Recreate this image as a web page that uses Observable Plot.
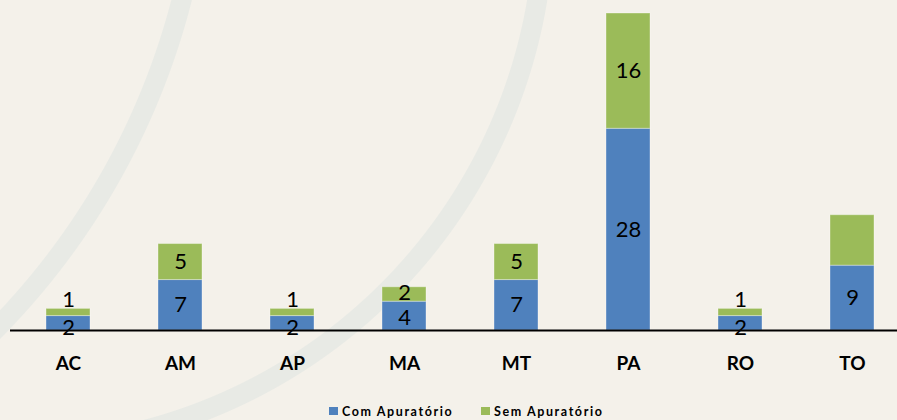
<!DOCTYPE html>
<html>
<head>
<meta charset="utf-8">
<script src="https://cdn.jsdelivr.net/npm/d3@7"></script>
<script src="https://cdn.jsdelivr.net/npm/@observablehq/plot@0.6"></script>
<style>
html, body { margin: 0; padding: 0; }
body {
  width: 897px; height: 420px; overflow: hidden;
  background-color: #f4f1ea;
  background-image:
    radial-gradient(circle at -523px -181px, transparent 717px, #e8eae5 718px, #e8eae5 737px, transparent 738px),
    radial-gradient(circle at 9px -88px, transparent 525px, #e8eae5 526px, #e8eae5 545px, transparent 546px);
  font-family: Lato, "Open Sans", sans-serif;
}
#chart svg { display: block; }
#legend { position: relative; width: 897px; height: 30px; }
.item { position: absolute; top: 14px; height: 14px; display: flex; align-items: center;
  font-size: 12.5px; font-weight: bold; letter-spacing: 1.6px; color: #000; }
.swatch { width: 9px; height: 8px; margin-right: 4px; }
</style>
</head>
<body>
<div id="chart"></div>
<div id="legend"></div>
<script>
const categories = ["AC", "AM", "AP", "MA", "MT", "PA", "RO", "TO"];
const comApuratorio = [2, 7, 2, 4, 7, 28, 2, 9];
const semApuratorio = [1, 5, 1, 2, 5, 16, 1, 7];
const comLabels = [2, 7, 2, 4, 7, 28, 2, 9];
const semLabels = [1, 5, 1, 2, 5, 16, 1, null];
const seriesNames = ["Com Apuratório", "Sem Apuratório"];
const seriesColors = ["#4f81bd", "#9bbb59"];

const data = [];
categories.forEach((c, i) => {
  const total = comApuratorio[i] + semApuratorio[i];
  data.push({state: c, series: seriesNames[0], value: comApuratorio[i], label: comLabels[i], total});
  data.push({state: c, series: seriesNames[1], value: semApuratorio[i], label: semLabels[i], total});
});
const isSmall = d => d.total <= 3;
const isTight = d => d.total > 3 && d.total <= 6;
const isNormal = d => d.total > 6;
const isCom = d => d.series === seriesNames[0];
const pick = test => d => test(d) ? d.label : null;

const textOpts = {x: "state", y: "value", fontSize: 22, fill: "#000"};
const plot = Plot.plot({
  width: 897, height: 390,
  marginTop: 13, marginBottom: 60, marginLeft: 10, marginRight: 0,
  style: {fontFamily: "Lato, 'Open Sans', sans-serif", background: "transparent", color: "#000", overflow: "visible"},
  x: {domain: categories, range: [-23, 943], padding: 0.608, label: null},
  y: {domain: [0, 44], axis: null},
  color: {domain: seriesNames, range: seriesColors},
  marks: [
    Plot.barY(data, {x: "state", y: "value", fill: "series", stroke: "#ffffff", strokeOpacity: 0.35, strokeWidth: 1}),
    Plot.ruleY([0], {stroke: "#000", strokeWidth: 2}),
    Plot.text(data, Plot.stackY({...textOpts, text: pick(isNormal)})),
    Plot.text(data, Plot.stackY({...textOpts, text: pick(d => isTight(d) && !isCom(d)), dy: -2})),
    Plot.text(data, Plot.stackY({...textOpts, text: pick(d => isTight(d) && isCom(d)), dy: 2})),
    Plot.text(data, Plot.stackY({...textOpts, text: pick(d => isSmall(d) && !isCom(d)), dy: -13})),
    Plot.text(data, Plot.stackY({...textOpts, text: pick(d => isSmall(d) && isCom(d)), dy: 5})),
    Plot.axisX({tickSize: 0, tickPadding: 26, fontSize: 19, fontWeight: "bold", label: null})
  ]
});
document.getElementById("chart").appendChild(plot);

const legend = document.getElementById("legend");
const legendLeft = [329, 481];
seriesNames.forEach((name, i) => {
  const item = document.createElement("div");
  item.className = "item";
  item.style.left = legendLeft[i] + "px";
  const sw = document.createElement("span");
  sw.className = "swatch";
  sw.style.background = seriesColors[i];
  const tx = document.createElement("span");
  tx.textContent = name;
  item.appendChild(sw);
  item.appendChild(tx);
  legend.appendChild(item);
});
</script>
</body>
</html>
